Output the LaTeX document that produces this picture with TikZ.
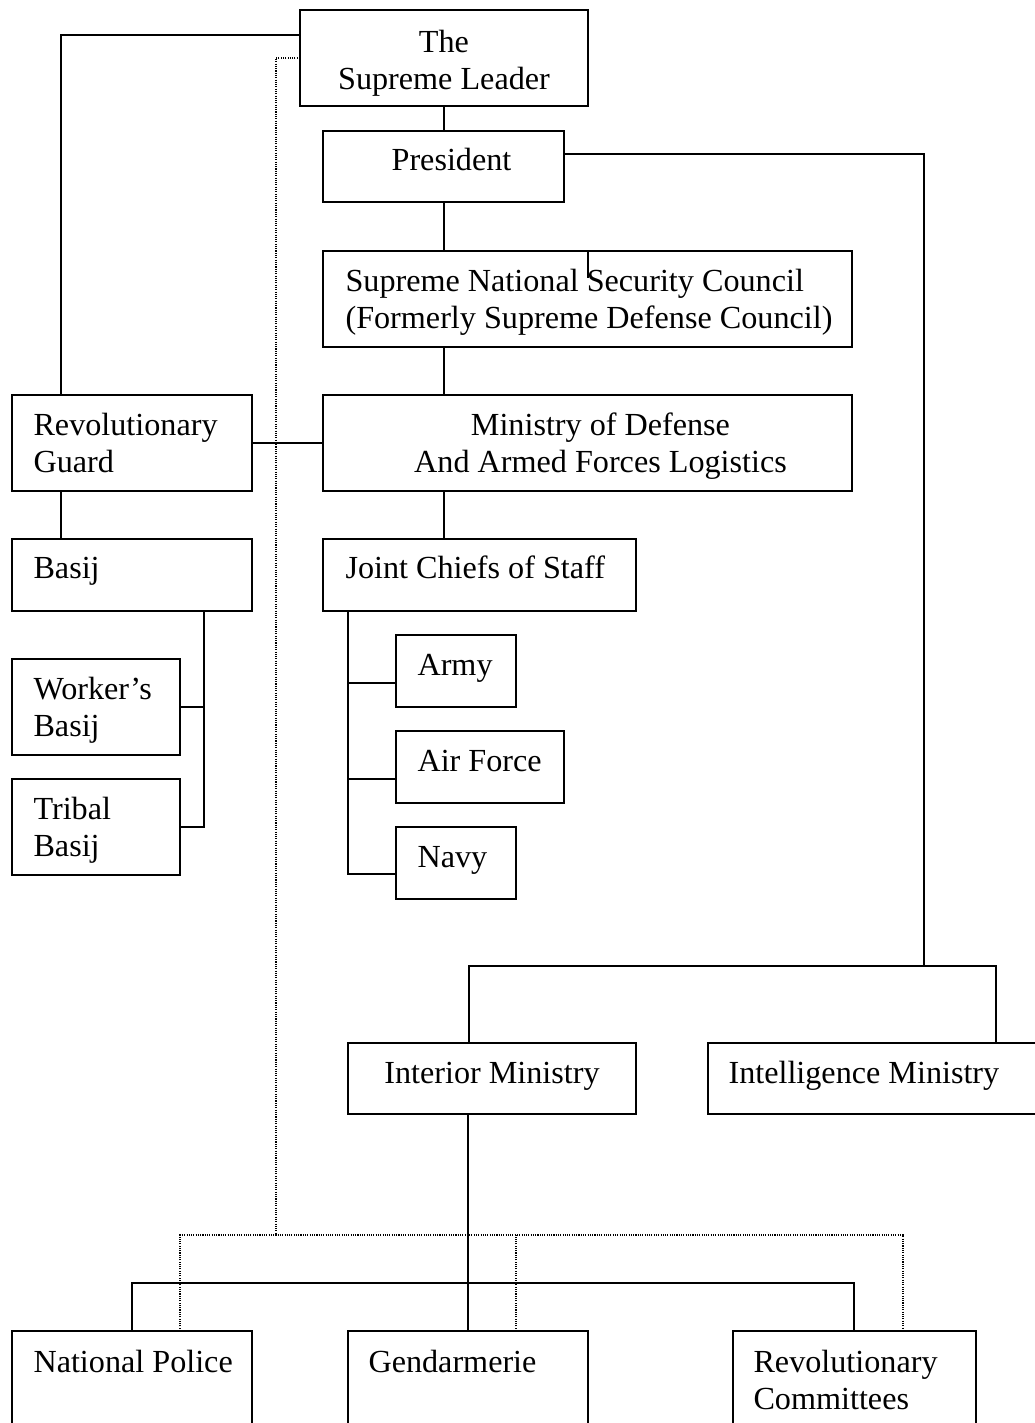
\documentclass[tikz,border=0pt]{standalone}
\usepackage{fontspec}
\setmainfont{Liberation Serif}
\usetikzlibrary{calc}

\newcommand\pxl{0.373pt}
\tikzset{
  box/.style 2 args={draw, line width=0.75pt, anchor=north west, inner sep=0pt,
    outer sep=0pt, minimum width=#1*\pxl, minimum height=#2*\pxl},
  lbl/.style={anchor=base west, align=left, inner sep=0pt,
    font=\fontsize{12}{13.8}\selectfont},
  clbl/.style={lbl, anchor=base, align=center},
  link/.style={line width=0.75pt},
  dots/.style={line width=0.5pt, dash pattern=on 0.4pt off 0.45pt},
}

\begin{document}
\begin{tikzpicture}[x=0.373pt, y=-0.373pt]
        \useasboundingbox (0,0) rectangle (1035,1423);
        \clip (0,0) rectangle (1035,1423);

        % boxes
        \node[box={288}{96}] (lead) at (300,10) {};
        \node[box={241}{71}] (pres) at (323,131) {};
        \node[box={529}{96}] (snsc) at (323,251) {};
        \node[box={529}{96}] (mod) at (323,395) {};
        \node[box={240}{96}] (rg) at (12,395) {};
        \node[box={240}{72}] (basij) at (12,539) {};
        \node[box={168}{96}] (wbasij) at (12,659) {};
        \node[box={168}{96}] (tbasij) at (12,779) {};
        \node[box={313}{72}] (jcs) at (323,539) {};
        \node[box={120}{72}] (army) at (396,635) {};
        \node[box={168}{72}] (air) at (396,731) {};
        \node[box={120}{72}] (navy) at (396,827) {};
        \node[box={288}{71}] (interior) at (348,1043) {};
        \node[box={360}{71}] (intel) at (708,1043) {};
        \node[box={240}{140}] (police) at (12,1331) {};
        \node[box={240}{140}] (gend) at (348,1331) {};
        \node[box={243}{140}] (comm) at (733,1331) {};

        % texts (base = last line)
        \node[clbl] at ($(lead.north)+(0,79)$) {The\\Supreme Leader};
        \node[clbl] at ($(pres.north)+(8,39)$) {President};
        \node[lbl] at ($(snsc.north west)+(22,77)$) {Supreme National Security Council\\(Formerly Supreme Defense Council)};
        \node[clbl] at ($(mod.north)+(13,77)$) {Ministry of Defense\\And Armed Forces Logistics};
        \node[lbl] at ($(rg.north west)+(21,77)$) {Revolutionary\\Guard};
        \node[lbl] at ($(basij.north west)+(21,39)$) {Basij};
        \node[lbl] at ($(wbasij.north west)+(21,77)$) {Worker’s\\Basij};
        \node[lbl] at ($(tbasij.north west)+(21,77)$) {Tribal\\Basij};
        \node[lbl] at ($(jcs.north west)+(22,39)$) {Joint Chiefs of Staff};
        \node[lbl] at ($(army.north west)+(21,40)$) {Army};
        \node[lbl] at ($(air.north west)+(21,40)$) {Air Force};
        \node[lbl] at ($(navy.north west)+(21,40)$) {Navy};
        \node[clbl] at ($(interior.north)+(0,40)$) {Interior Ministry};
        \node[lbl] at ($(intel.north west)+(20,40)$) {Intelligence Ministry};
        \node[lbl] at ($(police.north west)+(21,41)$) {National Police};
        \node[lbl] at ($(gend.north west)+(20,41)$) {Gendarmerie};
        \node[lbl] at ($(comm.north west)+(20,78)$) {Revolutionary\\Committees};

        % solid links
        \draw[link] (lead.south) -- (lead.south |- pres.north);
        \draw[link] (lead.south |- pres.south) -- (lead.south |- snsc.north);
        \draw[link] ($(snsc.north west)+(265,0)$) -- ++(0,27);
        \draw[link] ($(snsc.south west)+(121,0)$) -- ($(mod.north west)+(121,0)$);
        \draw[link] ($(mod.south west)+(121,0)$) -- ($(jcs.north west)+(121,0)$);
        \draw[link] ($(lead.north west)+(0,25)$) -| ($(rg.north west)+(49,0)$);
        \draw[link] (rg.east) -- (mod.west);
        \draw[link] ($(rg.south west)+(49,0)$) -- ($(basij.north west)+(49,0)$);
        \coordinate (bb) at ($(basij.south west)+(192,0)$);
        \draw[link] (bb) |- (tbasij.east);
        \draw[link] (wbasij.east) -- (bb |- wbasij.east);
        \coordinate (jb) at ($(jcs.south west)+(25,0)$);
        \draw[link] (jb) |- ($(navy.west)+(0,11)$);
        \draw[link] ($(army.west)+(0,12)$) -- (jb |- {$(army.west)+(0,12)$});
        \draw[link] ($(air.west)+(0,12)$) -- (jb |- {$(air.west)+(0,12)$});
        \coordinate (ib) at (924,966);
        \draw[link] ($(pres.north east)+(0,23)$) -| (ib);
        \draw[link] ($(interior.north west)+(121,0)$) |- (ib) -| ($(intel.north west)+(288,0)$);
        \draw[link] ($(interior.south west)+(120,0)$) -- ($(gend.north west)+(120,0)$);
        \coordinate (gb) at (468,1283);
        \draw[link] (police.north) |- (gb) -| ($(comm.north west)+(121,0)$);

        % dotted links
        \coordinate (db) at (276,1235);
        \draw[dots] (lead.west) -| (db);
        \draw[dots] ($(police.north west)+(168,0)$) |- (db) -| ($(comm.north west)+(170,0)$);
        \draw[dots] ($(gend.north west)+(168,0)$) -- ++(0,-96);
      \end{tikzpicture}
\end{document}
